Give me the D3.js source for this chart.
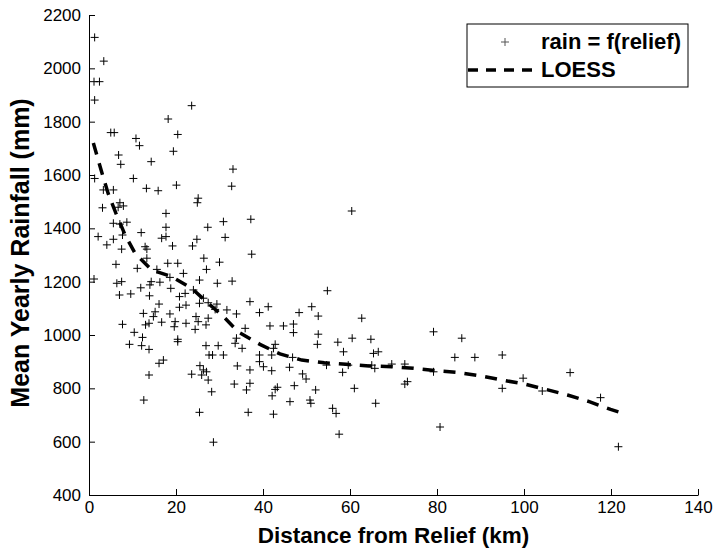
<!DOCTYPE html>
<html>
<head>
<meta charset="utf-8">
<script src="https://cdn.jsdelivr.net/npm/d3@7"></script>
<style>
  html, body { margin: 0; padding: 0; background: #fff; }
  svg { display: block; }
  text { font-family: "Liberation Sans", Arial, Helvetica, sans-serif; fill: #000; }
</style>
</head>
<body>
<svg id="chart" width="714" height="549"></svg>
<script>
// Station observations: distance from relief (km) and mean yearly rainfall (mm)
const distanceKm = [
  1.3, 3.4, 1.15, 2.4, 1.3, 23.6, 18.2, 5.0, 5.8, 10.8, 11.6, 20.4, 19.4, 6.8, 7.3, 14.3, 33.1, 10.2, 1.3,
  3.3, 5.6, 13.2, 15.9, 20.1, 32.8, 25.1, 24.9, 7.1, 7.9, 6.7, 3.1, 17.7, 5.6, 7.1, 8.7, 30.9, 27.3, 17.7,
  2.1, 5.6, 7.7, 12.0, 16.7, 17.7, 31.3, 24.8, 4.1, 7.5, 12.9, 13.3, 19.2, 23.8, 13.3, 6.2, 11.1, 18.1,
  20.4, 26.4, 30.0, 27.0, 15.6, 21.7, 1.15, 6.4, 7.5, 14.3, 14.0, 16.3, 18.6, 25.4, 29.5, 32.9, 7.0, 9.6,
  11.9, 13.9, 18.8, 20.8, 22.1, 24.0, 26.3, 25.4, 27.4, 16.1, 20.8, 22.3, 29.4, 29.0, 31.7, 33.9, 12.5,
  15.2, 14.8, 18.6, 24.6, 25.1, 27.4, 26.9, 13.0, 13.8, 16.7, 19.8, 19.6, 22.3, 7.7, 24.4, 10.4, 12.3,
  20.4, 33.9, 9.3, 12.1, 13.8, 20.4, 16.1, 17.1, 13.8, 12.6, 26.9, 29.7, 33.6, 27.6, 28.4, 30.9, 23.6,
  25.5, 25.9, 26.3, 27.0, 27.4, 28.2, 25.4, 28.6, 33.4, 34.1, 37.0, 39.2, 41.2, 48.3, 51.2, 52.7, 62.7,
  35.9, 41.6, 44.7, 47.0, 47.0, 52.7, 52.5, 35.2, 42.8, 42.4, 60.5, 57.2, 64.8, 58.5, 65.4, 66.5, 39.2,
  39.2, 42.0, 46.8, 37.0, 40.1, 42.0, 46.1, 54.6, 59.6, 65.0, 65.7, 58.3, 49.1, 49.9, 37.0, 36.2, 42.8,
  43.3, 42.1, 47.2, 52.1, 61.0, 46.2, 50.8, 51.0, 56.0, 56.8, 65.9, 36.6, 42.4, 57.5, 37.2, 60.4, 37.4,
  54.8, 69.6, 72.6, 72.6, 73.2, 79.2, 79.2, 85.7, 84.1, 88.7, 95.0, 95.0, 99.8, 104.2, 110.6, 117.6,
  121.7, 80.7
];
const rainfallMm = [
  2116, 2027, 1950, 1950, 1881, 1860, 1810, 1759, 1759, 1737, 1710, 1752, 1689, 1675, 1640, 1650, 1622, 1587, 1587,
  1544, 1544, 1550, 1541, 1562, 1558, 1513, 1496, 1496, 1484, 1479, 1477, 1456, 1419, 1416, 1423, 1425, 1404, 1404,
  1369, 1359, 1375, 1384, 1363, 1369, 1366, 1359, 1338, 1322, 1331, 1322, 1334, 1334, 1288, 1265, 1250, 1269,
  1269, 1288, 1273, 1246, 1246, 1231, 1210, 1194, 1200, 1200, 1188, 1198, 1216, 1206, 1194, 1202, 1150, 1154,
  1177, 1147, 1175, 1144, 1156, 1169, 1138, 1119, 1121, 1116, 1104, 1112, 1116, 1096, 1094, 1079, 1081,
  1087, 1069, 1079, 1069, 1050, 1063, 1038, 1038, 1044, 1048, 1050, 1031, 1044, 1040, 1021, 1010, 991,
  984, 988, 965, 960, 946, 975, 894, 906, 850, 756, 960, 960, 969, 925, 925, 925, 853,
  885, 850, 869, 862, 831, 787, 710, 598, 816, 884, 1125, 1084, 1106, 1084, 1106, 1071, 1063,
  1025, 1034, 1034, 1041, 1009, 1003, 965, 950, 965, 950, 988, 973, 984, 937, 931, 937, 925,
  900, 925, 916, 869, 881, 866, 879, 887, 887, 887, 875, 860, 854, 835, 819, 794, 796,
  804, 772, 810, 794, 800, 750, 756, 744, 725, 706, 744, 710, 703, 628, 1434, 1465, 1303,
  1166, 891, 891, 816, 825, 1012, 862, 988, 916, 916, 925, 800, 838, 790, 859, 765,
  581, 655
];

// Smoothed LOESS curve
const loessX = [1.0, 2.9, 4.4, 6.2, 8.3, 10.6, 14.4, 19.0, 23.6, 27.4, 30.9, 34.3, 39.3, 43.9, 48.9,
  54.1, 59.1, 64.4, 69.6, 74.6, 79.8, 84.9, 89.9, 95.0, 100.1, 105.0, 110.0, 115.0, 119.9, 121.7];
const loessY = [1720, 1612, 1531, 1456, 1375, 1306, 1244, 1219, 1175, 1119, 1069, 1012, 965, 929, 906,
  896, 890, 884, 881, 875, 866, 859, 847, 831, 816, 796, 775, 750, 721, 712];

const xTicks = [0, 20, 40, 60, 80, 100, 120, 140];
const yTicks = [400, 600, 800, 1000, 1200, 1400, 1600, 1800, 2000, 2200];

const xTitle = "Distance from Relief (km)";
const yTitle = "Mean Yearly Rainfall (mm)";
const legendLabels = ["rain = f(relief)", "LOESS"];

const svg = d3.select("#chart");
svg.append("rect").attr("width", 714).attr("height", 549).attr("fill", "#fff");

const plot = { left: 89, top: 15, width: 609, height: 480 };

const x = d3.scaleLinear().domain([0, 140]).range([plot.left, plot.left + plot.width]);
const y = d3.scaleLinear().domain([400, 2200]).range([plot.top + plot.height, plot.top]);

// Axes with inward ticks
const xAxis = d3.axisBottom(x).tickValues(xTicks).tickFormat(d3.format("d"))
  .tickSizeInner(-6).tickSizeOuter(0).tickPadding(6);
const yAxis = d3.axisLeft(y).tickValues(yTicks).tickFormat(d3.format("d"))
  .tickSizeInner(-6).tickSizeOuter(0).tickPadding(8);

const gx = svg.append("g").attr("transform", `translate(0,${plot.top + plot.height})`).call(xAxis);
const gy = svg.append("g").attr("transform", `translate(${plot.left},0)`).call(yAxis);

[gx, gy].forEach(g => {
  g.select(".domain").attr("stroke", "#000").attr("stroke-width", 1);
  g.selectAll(".tick line").attr("stroke", "#000").attr("stroke-width", 1);
  g.selectAll(".tick text").attr("font-size", 17).attr("fill", "#000")
    .attr("font-family", "Liberation Sans, Arial, sans-serif");
});

// Axis titles
svg.append("text")
  .attr("x", plot.left + plot.width / 2)
  .attr("y", 543)
  .attr("text-anchor", "middle")
  .attr("font-size", 22.5)
  .attr("font-weight", "bold")
  .text(xTitle);

svg.append("text")
  .attr("transform", `translate(29,${plot.top + plot.height / 2 - 2}) rotate(-90)`)
  .attr("text-anchor", "middle")
  .attr("font-size", 25)
  .attr("font-weight", "bold")
  .text(yTitle);

// Plus markers
const plusPath = "M-4,0H4M0,-4V4";
const data = distanceKm.map((d, i) => ({ d, r: rainfallMm[i] }));
svg.append("g")
  .selectAll("path")
  .data(data)
  .join("path")
  .attr("transform", p => `translate(${x(p.d)},${y(p.r)})`)
  .attr("d", plusPath)
  .attr("stroke", "#000")
  .attr("stroke-width", 1)
  .attr("fill", "none");

// LOESS line
const loess = loessX.map((d, i) => [d, loessY[i]]);
svg.append("path")
  .datum(loess)
  .attr("d", d3.line().x(p => x(p[0])).y(p => y(p[1])))
  .attr("fill", "none")
  .attr("stroke", "#000")
  .attr("stroke-width", 3.5)
  .attr("stroke-dasharray", "12,9");

// Legend
const legend = svg.append("g");
legend.append("rect")
  .attr("x", 467).attr("y", 24).attr("width", 221).attr("height", 63)
  .attr("fill", "#fff").attr("stroke", "#000").attr("stroke-width", 1);
legend.append("path")
  .attr("transform", "translate(505,42)")
  .attr("d", plusPath)
  .attr("stroke", "#555").attr("stroke-width", 1);
legend.append("line")
  .attr("x1", 468).attr("x2", 532).attr("y1", 70).attr("y2", 70)
  .attr("stroke", "#000").attr("stroke-width", 3.5).attr("stroke-dasharray", "10,8");
legend.selectAll("text.lbl")
  .data(legendLabels)
  .join("text")
  .attr("class", "lbl")
  .attr("x", 541)
  .attr("y", (d, i) => 49 + i * 28)
  .attr("font-size", 22)
  .attr("font-weight", "bold")
  .text(d => d);
</script>
</body>
</html>
